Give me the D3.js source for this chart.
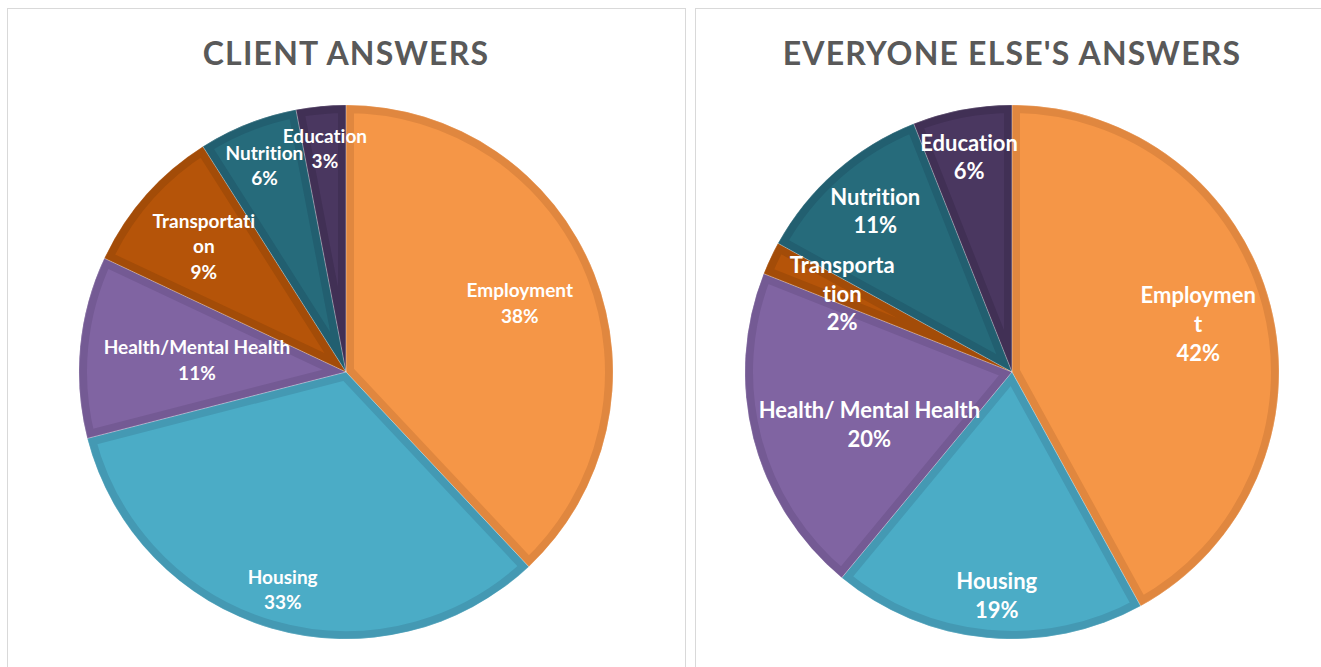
<!DOCTYPE html>
<html><head><meta charset="utf-8">
<script src="https://cdn.jsdelivr.net/npm/d3@7/dist/d3.min.js"></script>
<style>html,body{margin:0;padding:0;background:#fff;}svg{display:block;font-family:Lato,"Open Sans",sans-serif;font-variant-ligatures:none;font-feature-settings:"liga" 0;}</style>
</head><body>
<svg id="chart" width="1321" height="667"></svg>
<script>
// ---- data ----
const categories = ["Employment","Housing","Health/Mental Health","Transportation","Nutrition","Education"];
const clientValues = [38,33,11,9,6,3];
const everyoneValues = [42,19,20,2,11,6];
const clientLabels = [["Employment"],["Housing"],["Health/Mental Health"],["Transportati","on"],["Nutrition"],["Education"]];
const everyoneLabels = [["Employmen","t"],["Housing"],["Health/ Mental Health"],["Transporta","tion"],["Nutrition"],["Education"]];
const titles = ["CLIENT ANSWERS","EVERYONE ELSE'S ANSWERS"];

// ---- style / layout ----
const fills = ["#F59647","#4BACC6","#8064A2","#B55409","#266B7B","#4A3760"];
const bands = ["#E0873F","#4499B3","#745A94","#A34C08","#225F70","#413055"];
const clientLabelRadius = [0.70,0.85,0.56,0.71,0.83,0.84];
const clientLabelShift = [0,0,-1,0,0,0];
const everyoneLabelRadius = [0.72,0.84,0.57,0.70,0.79,0.82];
const everyoneLabelShift = [0,-1.5,-6,-0.5,1,-0.5];

const svg = d3.select("#chart");
const panels = [
  {x0:7, x1:685, cx:346, values:clientValues, labels:clientLabels, lr:clientLabelRadius, ls:clientLabelShift, fs:19, lh:25.5, title:titles[0]},
  {x0:695, x1:1340, cx:1012, values:everyoneValues, labels:everyoneLabels, lr:everyoneLabelRadius, ls:everyoneLabelShift, fs:22, lh:28.8, title:titles[1]}
];
const cy = 372, R = 267;
const pie = d3.pie().sort(null).value(d => d);

panels.forEach((p, pi) => {
  svg.append("rect").attr("x", p.x0 + 0.5).attr("y", 8.5)
    .attr("width", p.x1 - p.x0).attr("height", 700)
    .attr("fill", "#fff").attr("stroke", "#D9D9D9").attr("stroke-width", 1);

  svg.append("text").attr("x", p.cx).attr("y", 65)
    .attr("text-anchor", "middle").attr("fill", "#595959")
    .attr("font-size", 32).attr("font-weight", 700).attr("letter-spacing", 1.2)
    .text(p.title);

  const g = svg.append("g").attr("transform", `translate(${p.cx},${cy})`);
  const arcs = pie(p.values);
  const arc = d3.arc().innerRadius(0).outerRadius(R);

  arcs.forEach((a, i) => {
    const id = `clip-${pi}-${i}`;
    g.append("clipPath").attr("id", id).append("path").attr("d", arc(a));
    g.append("path").attr("d", arc(a)).attr("fill", fills[i])
      .attr("stroke", bands[i]).attr("stroke-width", 16)
      .attr("stroke-linejoin", "miter")
      .attr("clip-path", `url(#${id})`);
  });
  arcs.forEach((a, i) => {
    g.append("path").attr("d", arc(a)).attr("fill", "none")
      .attr("stroke", "#ffffff").attr("stroke-opacity", 0.35).attr("stroke-width", 0.6);
  });

  arcs.forEach((a, i) => {
    const sh = p.ls[i] * Math.PI / 180;
    const la = d3.arc().innerRadius(R * p.lr[i]).outerRadius(R * p.lr[i]);
    const [x, y] = la.centroid({startAngle: a.startAngle + sh, endAngle: a.endAngle + sh});
    const lines = p.labels[i].concat([p.values[i] + "%"]);
    const n = lines.length;
    const t = g.append("text").attr("text-anchor", "middle").attr("fill", "#fff")
      .attr("font-size", p.fs).attr("font-weight", 700);
    lines.forEach((ln, k) => {
      t.append("tspan").attr("x", x)
        .attr("y", y + (k - (n - 1) / 2) * p.lh + p.fs * 0.35)
        .text(ln);
    });
  });
});
</script>
</body></html>
